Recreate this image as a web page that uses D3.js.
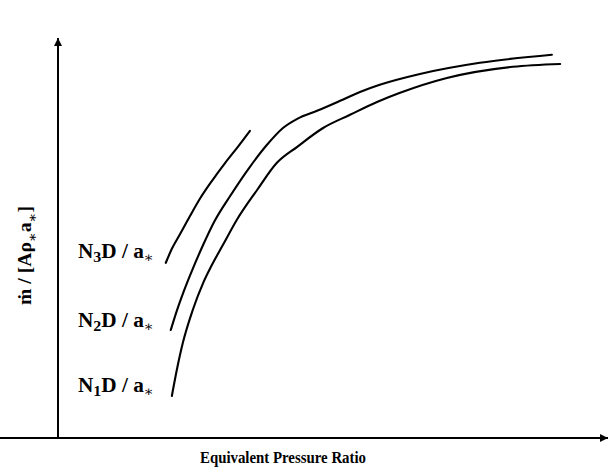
<!DOCTYPE html>
<html>
<head>
<meta charset="utf-8">
<script src="https://cdn.jsdelivr.net/npm/d3@7"></script>
<style>
  html, body { margin: 0; padding: 0; background: #fff; }
  svg { display: block; }
  text { font-family: "Liberation Serif", "Times New Roman", "DejaVu Serif", serif; font-weight: bold; fill: #000; }
</style>
</head>
<body>
<svg id="chart" width="611" height="469"></svg>
<script>
// Mass-flow characteristic curves for three corrected speeds (N1 < N2 < N3).
// Values are in arbitrary units on a 0-100 scale for both axes.
const subscripts = ["1", "2", "3"];

const n1PressureRatio = [20.7, 21.6, 22.7, 24.5, 26.4, 28.0, 30.0, 32.5, 36.2, 39.8, 43.5, 48.2, 53.1, 58.0, 62.2, 70.7, 82.7, 91.3];
const n1MassFlow      = [10.5, 17.0, 23.8, 32.0, 38.8, 43.3, 48.3, 54.5, 62.0, 68.8, 72.8, 77.5, 80.8, 84.0, 86.3, 90.0, 92.8, 93.5];

const n2PressureRatio = [20.5, 21.6, 22.9, 24.5, 26.4, 28.5, 31.3, 34.9, 38.0, 40.9, 43.5, 47.1, 51.3, 54.9, 58.5, 65.8, 76.7, 89.8];
const n2MassFlow      = [27.0, 31.8, 36.8, 42.3, 48.3, 54.3, 60.5, 67.8, 73.3, 77.5, 79.8, 81.8, 84.3, 86.5, 88.3, 91.0, 93.8, 95.8];

const n3PressureRatio = [19.6, 20.7, 22.2, 24.0, 25.8, 28.0, 30.4, 32.7, 34.9];
const n3MassFlow      = [43.8, 47.3, 51.0, 55.5, 59.8, 64.3, 68.8, 72.8, 76.8];

const xTitle = "Equivalent Pressure Ratio";

const series = [
  { x: n1PressureRatio, y: n1MassFlow },
  { x: n2PressureRatio, y: n2MassFlow },
  { x: n3PressureRatio, y: n3MassFlow }
];

const svg = d3.select("#chart");
const margin = { left: 58, top: 38, right: 3, bottom: 31 };
const W = 611, H = 469;

const x = d3.scaleLinear().domain([0, 100]).range([margin.left, W - margin.right]);
const y = d3.scaleLinear().domain([0, 100]).range([H - margin.bottom, margin.top]);

// Arrowhead marker for the axis ends
svg.append("defs").append("marker")
  .attr("id", "arrow")
  .attr("viewBox", "0 0 10 10")
  .attr("refX", 10).attr("refY", 5)
  .attr("markerWidth", 11).attr("markerHeight", 8)
  .attr("markerUnits", "userSpaceOnUse")
  .attr("orient", "auto")
  .append("path")
  .attr("d", "M0,0 L10,5 L0,10 Z")
  .attr("fill", "#000");

// Axes without ticks: only the domain lines are kept
const xAxis = svg.append("g")
  .attr("transform", `translate(0,${y(0)})`)
  .call(d3.axisBottom(x).ticks(0).tickSizeOuter(0));
const yAxis = svg.append("g")
  .attr("transform", `translate(${x(0)},0)`)
  .call(d3.axisLeft(y).ticks(0).tickSizeOuter(0));

[xAxis, yAxis].forEach(g => {
  g.select(".domain")
    .attr("stroke", "#000")
    .attr("stroke-width", 2)
    .attr("marker-end", "url(#arrow)");
});
// Run the domain lines outward so the arrowheads sit at the far ends
yAxis.select(".domain").attr("d", `M0,${y(0) + 1}V${y(100)}`);
xAxis.select(".domain").attr("d", `M-1,0H${x(100)}`);

// Curves
const line = d3.line()
  .x(d => x(d[0]))
  .y(d => y(d[1]))
  .curve(d3.curveMonotoneX);

series.forEach(s => {
  const pts = s.x.map((v, i) => [v, s.y[i]]);
  svg.append("path")
    .datum(pts)
    .attr("fill", "none")
    .attr("stroke", "#000")
    .attr("stroke-width", 2.1)
    .attr("stroke-linecap", "round")
    .attr("stroke-linejoin", "round")
    .attr("d", line);
});

// Curve labels "NiD / a*", left-aligned in a column beside the curve starts
const labelDy = [-4.5, -3.5, -5];
series.forEach((s, i) => {
  const t = svg.append("text")
    .attr("x", 78)
    .attr("y", y(s.y[0]) + labelDy[i])
    .attr("font-size", 20)
    .attr("textLength", 76)
    .attr("lengthAdjust", "spacingAndGlyphs");
  t.append("tspan").text("N");
  t.append("tspan").attr("font-size", 15).attr("dy", 4).text(subscripts[i]);
  t.append("tspan").attr("dy", -4).text("D / a");
  t.append("tspan").attr("font-size", 14).attr("dy", 4).attr("font-weight", "normal").text("\u2217");
});

// X axis title
svg.append("text")
  .attr("x", 200)
  .attr("y", 463)
  .attr("font-size", 17)
  .attr("textLength", 166)
  .attr("lengthAdjust", "spacingAndGlyphs")
  .text(xTitle);

// Y axis title: m-dot / [A rho* a*]
const yt = svg.append("text")
  .attr("transform", "translate(31,305) rotate(-90)")
  .attr("font-size", 19)
  .attr("textLength", 99)
  .attr("lengthAdjust", "spacingAndGlyphs");
yt.append("tspan").text("\u1E41 / [A\u03C1");
yt.append("tspan").attr("font-size", 14).attr("dy", 6).attr("font-weight", "normal").text("\u2217");
yt.append("tspan").attr("dy", -6).text("a");
yt.append("tspan").attr("font-size", 14).attr("dy", 6).attr("font-weight", "normal").text("\u2217");
yt.append("tspan").attr("dy", -6).text("]");
</script>
</body>
</html>
